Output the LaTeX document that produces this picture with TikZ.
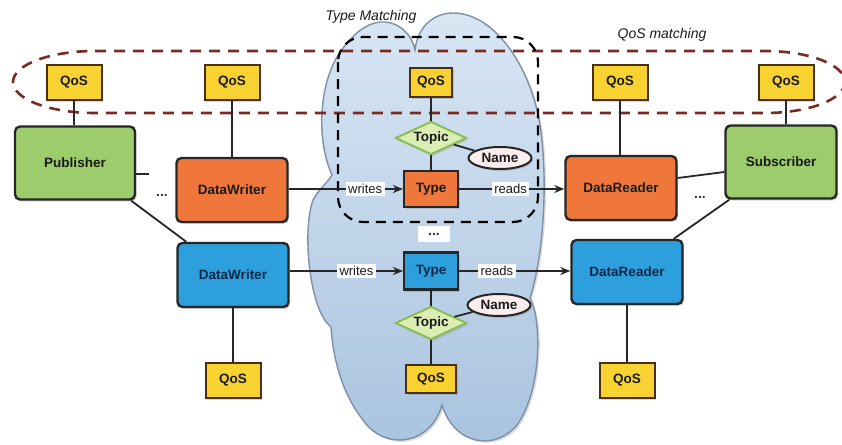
\documentclass[tikz,border=0pt]{standalone}
\usepackage{fontspec}
\setmainfont{Liberation Sans}
\usetikzlibrary{shapes.geometric,shadows,arrows.meta}

\definecolor{qosfill}{HTML}{F8D231}
\definecolor{qosline}{HTML}{4A2E12}
\definecolor{grnfill}{HTML}{9DCC6C}
\definecolor{orgfill}{HTML}{EF773B}
\definecolor{bluefill}{HTML}{2C9FDC}
\definecolor{topicfill}{HTML}{DCEDB4}
\definecolor{topicline}{HTML}{86BC4E}
\definecolor{namefill}{HTML}{FBEDED}
\definecolor{cloudtop}{HTML}{D8E6F4}
\definecolor{cloudbot}{HTML}{A9C3DF}
\definecolor{cloudline}{HTML}{7D90A6}
\definecolor{qosdash}{HTML}{7A2A22}
\definecolor{bluetext}{HTML}{0E2747}
\definecolor{inktext}{HTML}{1A1A1A}

\tikzset{
  shade/.style={drop shadow={opacity=0.3, shadow xshift=1.5pt, shadow yshift=-2pt}},
  boldtxt/.style={font=\fontsize{13.5}{15}\selectfont\bfseries, text=inktext},
  qos/.style={boldtxt, shade, draw=qosline, fill=qosfill, line width=2pt,
    minimum width=55pt, minimum height=35pt, inner sep=0pt},
  pubsub/.style={boldtxt, shade, draw=black!85, fill=grnfill, line width=2.4pt,
    rounded corners=5pt, minimum width=120pt, minimum height=73pt, inner sep=0pt},
  entity/.style={boldtxt, shade, draw=black!85, line width=2.4pt,
    rounded corners=5pt, minimum width=111pt, minimum height=64pt, inner sep=0pt},
  typebox/.style={boldtxt, shade, draw=black!85, line width=2.2pt,
    minimum width=54pt, minimum height=36pt, inner sep=0pt},
  topic/.style={boldtxt, shade, diamond, aspect=2.15, draw=topicline, fill=topicfill,
    line width=1.8pt, minimum width=71pt, minimum height=33pt, inner sep=0pt},
  nameel/.style={boldtxt, shade, ellipse, draw=black!85, fill=namefill, line width=2pt,
    minimum width=63pt, minimum height=22pt, inner sep=0pt},
  conn/.style={draw=black!85, line width=1.8pt},
  arr/.style={conn, -{Stealth[length=10pt,width=8pt]}},
  lbl/.style={fill=white, inner sep=2.5pt, font=\fontsize{13}{15}\selectfont, text=inktext},
  dotlbl/.style={font=\fontsize{14}{15}\selectfont\bfseries, text=black!80},
  headlbl/.style={font=\fontsize{14}{16}\selectfont\itshape, text=inktext}
}

\begin{document}
\begin{tikzpicture}[x=1pt, y=-1pt]
\useasboundingbox (0,0) rectangle (842,444);

% the shared data space, drawn as a cloud
\path[draw=cloudline, line width=1.4pt, top color=cloudtop, bottom color=cloudbot,
      drop shadow={opacity=0.25, shadow xshift=2pt, shadow yshift=-2pt}]
  (415,50) .. controls (418,25) and (435,13) .. (453,13)
  .. controls (492,13) and (525,60) .. (537,110)
  .. controls (547,150) and (548,240) .. (530,298)
  .. controls (542,320) and (542,390) .. (517,425)
  .. controls (497,450) and (455,447) .. (442,405)
  .. controls (430,447) and (383,450) .. (363,420)
  .. controls (343,395) and (333,360) .. (331,327)
  .. controls (309,310) and (302,230) .. (313,200)
  .. controls (318,190) and (328,182) .. (332,175)
  .. controls (316,140) and (318,80) .. (343,48)
  .. controls (358,28) and (373,21) .. (385,22)
  .. controls (400,23) and (412,35) .. (415,50) -- cycle;

% QoS matching band
\draw[qosdash, line width=2.6pt, dash pattern=on 11pt off 8pt]
  (95,51) -- (765,51) arc[start angle=90, end angle=-90, x radius=80pt, y radius=31pt]
  -- (95,113) arc[start angle=270, end angle=90, x radius=82pt, y radius=31pt] -- cycle;

% type matching frame
\draw[black, line width=2.2pt, dash pattern=on 10pt off 7pt, rounded corners=25pt]
  (338,37) rectangle (538,222);

% headings
\node[headlbl] (tm) at (371,17) {Type Matching};
\node[headlbl] (qm) at (662,35) {QoS matching};

% QoS policies
\node[qos] (q1) at (74,82) {QoS};
\node[qos] (q2) at (232,82) {QoS};
\node[qos, minimum width=42pt, minimum height=29pt] (qt) at (431,82) {QoS};
\node[qos] (q4) at (620,82) {QoS};
\node[qos] (q5) at (786,82) {QoS};
\node[qos] (qbl) at (233,380) {QoS};
\node[qos] (qbr) at (627,380) {QoS};
\node[qos, minimum width=50pt, minimum height=28pt] (qbc) at (431,379) {QoS};

% entities
\node[pubsub] (pub) at (75,163) {Publisher};
\node[pubsub, minimum width=111pt] (sub) at (781,162) {Subscriber};
\node[entity, fill=orgfill] (dwo) at (232,190) {DataWriter};
\node[entity, fill=bluefill, text=bluetext] (dwb) at (233,275) {DataWriter};
\node[entity, fill=orgfill] (dro) at (621,188) {DataReader};
\node[entity, fill=bluefill, text=bluetext] (drb) at (627,272) {DataReader};

% topics
\node[typebox, fill=orgfill] (to) at (431,189) {Type};
\node[typebox, fill=bluefill, text=bluetext, minimum height=37pt] (tb) at (431,271) {Type};
\node[topic] (tpo) at (431,138) {Topic};
\node[topic] (tpb) at (431,323) {Topic};
\node[nameel] (no) at (500,158) {Name};
\node[nameel] (nb) at (499,305) {Name};

% ellipses
\node[fill=white, inner sep=0pt, minimum width=32pt, minimum height=16pt, dotlbl] (mid) at (434,234) {...};
\node[dotlbl] (dl) at (162,195) {...};
\node[dotlbl] (dr) at (700,197) {...};

% connectors
\coordinate (pubstub) at (149,174);
\draw[conn] (q1) -- (q1 |- pub.north);
\draw[conn] (q2) -- (dwo);
\draw[conn] (pubstub -| pub.east) -- (pubstub);
\draw[conn] ([xshift=-5pt]pub.south east) -- ([xshift=10pt]dwb.north west);
\draw[conn] (q4) -- (q4 |- dro.north);
\draw[conn] (q5) -- (q5 |- sub.north);
\draw[conn] ([yshift=10pt]dro.east) -- ([yshift=-10pt]sub.west);
\draw[conn] ([xshift=5pt]sub.south west) -- ([xshift=-10pt]drb.north east);
\draw[conn] (dwb) -- (qbl);
\draw[conn] (drb) -- (qbr);

\draw[conn] (qt) -- (tpo);
\draw[conn] (tpo) -- (to);
\draw[conn] (tpo) -- (no);
\draw[conn] (tb) -- (tpb);
\draw[conn] (tpb) -- (qbc);
\draw[conn] (tpb) -- (nb);

\draw[arr] (to.west -| dwo.east) -- node[lbl, pos=0.67] {writes} (to.west);
\draw[arr] (to.east) -- node[lbl, pos=0.49] {reads} (to.east -| dro.west);
\draw[arr] (tb.west -| dwb.east) -- node[lbl, pos=0.59] {writes} (tb.west);
\draw[arr] (tb.east) -- node[lbl, pos=0.34] {reads} (tb.east -| drb.west);
\end{tikzpicture}
\end{document}
